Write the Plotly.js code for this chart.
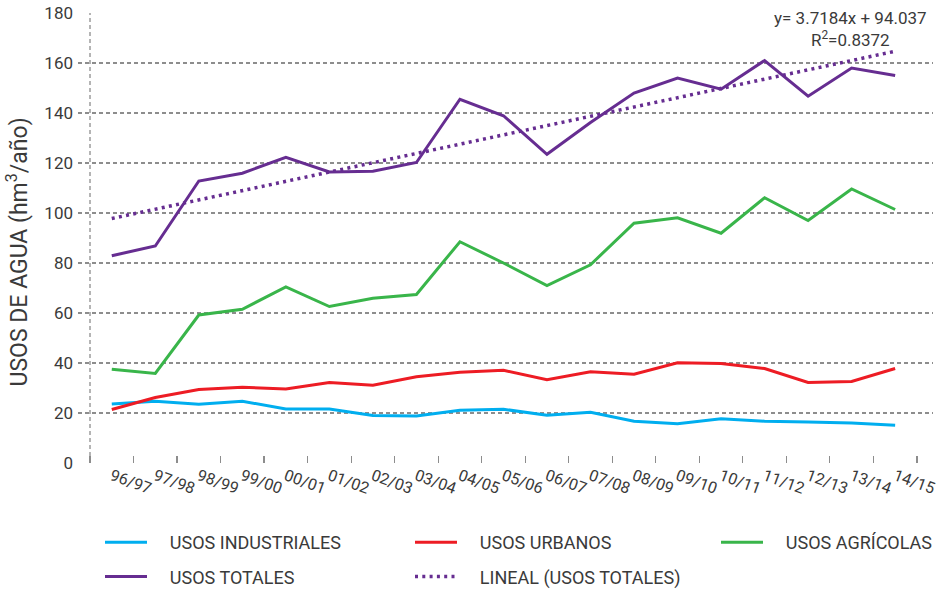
<!DOCTYPE html>
<html>
<head>
<meta charset="utf-8">
<script src="https://cdn.plot.ly/plotly-3.0.1.min.js"></script>
<style>html,body{margin:0;padding:0;background:#fff;}#chart{width:942px;height:590px;}</style>
</head>
<body>
<div id="chart"></div>
<script>
const categories = ["96/97","97/98","98/99","99/00","00/01","01/02","02/03","03/04","04/05","05/06","06/07","07/08","08/09","09/10","10/11","11/12","12/13","13/14","14/15"];
const usosIndustriales = [23.6, 24.7, 23.5, 24.7, 21.6, 21.6, 19.0, 18.8, 21.1, 21.5, 19.1, 20.3, 16.7, 15.7, 17.7, 16.7, 16.4, 16.0, 15.1];
const usosUrbanos = [21.4, 26.2, 29.4, 30.3, 29.6, 32.2, 31.1, 34.5, 36.3, 37.1, 33.3, 36.5, 35.5, 40.1, 39.8, 37.8, 32.2, 32.6, 37.8];
const usosAgricolas = [37.5, 35.8, 59.2, 61.5, 70.4, 62.6, 65.9, 67.4, 88.5, 80.0, 71.0, 79.3, 95.9, 98.1, 91.9, 106.1, 97.0, 109.6, 101.4];
const usosTotales = [82.9, 86.8, 112.8, 115.9, 122.3, 116.4, 116.7, 120.2, 145.5, 138.9, 123.5, 136.2, 148.0, 154.0, 149.5, 161.0, 146.7, 158.0, 155.0];
const tendenciaExtremos = [97.8, 164.7];
const yTicks = [0, 20, 40, 60, 80, 100, 120, 140, 160, 180];
const seriesNames = ["USOS INDUSTRIALES", "USOS URBANOS", "USOS AGRÍCOLAS", "USOS TOTALES", "LINEAL (USOS TOTALES)"];
const yTitle = "USOS DE AGUA (hm<sup>3</sup>/año)";
const equationText = "y= 3.7184x + 94.037<br>R<sup>2</sup>=0.8372";

const FONT = "Roboto, 'Liberation Sans', Arial, sans-serif";
const TXT = "#3a3a3a";
const GRID = "#8d8d8d";
const DASH = "4px,3px";
const PAD = "\u00a0\u00a0\u00a0\u00a0";

function lineTrace(y, name, color, legend, group) {
  return {type: "scatter", mode: "lines", x: categories, y: y, name: PAD + name,
    line: {color: color, width: 3}, legend: legend, legendgroup: group};
}

const traces = [
  lineTrace(usosIndustriales, seriesNames[0], "#00AEEF", "legend", "g1"),
  lineTrace(usosUrbanos, seriesNames[1], "#ED1C24", "legend2", "g2"),
  lineTrace(usosAgricolas, seriesNames[2], "#39B54A", "legend3", "g3"),
  lineTrace(usosTotales, seriesNames[3], "#662D91", "legend", "g4"),
  {type: "scatter", mode: "lines", x: [categories[0], categories[categories.length - 1]], y: tendenciaExtremos,
    name: PAD + seriesNames[4], line: {color: "#662D91", width: 3.5, dash: "3px,4.3px"}, legend: "legend2", legendgroup: "g5"}
];

const legendBase = {orientation: "v", xref: "container", yref: "container", xanchor: "left", yanchor: "top",
  font: {family: FONT, size: 18, color: TXT}, bgcolor: "rgba(0,0,0,0)", borderwidth: 0,
  tracegroupgap: 8, itemwidth: 42, traceorder: "grouped"};

const layout = {
  width: 942, height: 590,
  margin: {l: 78, r: 9, t: 13, b: 127, autoexpand: false},
  paper_bgcolor: "#fff", plot_bgcolor: "#fff",
  font: {family: FONT, color: TXT},
  showlegend: true,
  xaxis: {type: "category", range: [-0.776, 18.87], tickson: "boundaries", ticks: "inside", ticklen: 7,
    tickcolor: GRID, tickwidth: 1.2, showgrid: false, showline: false, zeroline: false,
    tickangle: 20, tickfont: {family: FONT, size: 16, color: TXT}, fixedrange: true},
  yaxis: {range: [0, 180], tickvals: yTicks, showgrid: true, gridcolor: GRID, gridwidth: 1.3, griddash: DASH,
    zeroline: false, showline: false, ticks: "", ticklabelstandoff: 4,
    tickfont: {family: FONT, size: 17, color: TXT}},
  legend: Object.assign({}, legendBase, {x: 100/942, y: 1 - 524/590}),
  legend2: Object.assign({}, legendBase, {x: 410/942, y: 1 - 524/590}),
  legend3: Object.assign({}, legendBase, {x: 716/942, y: 1 - 524/590}),
  shapes: [
    {type: "line", xref: "x", yref: "y", x0: -0.5, x1: -0.5, y0: 0, y1: 180, layer: "below",
      line: {color: GRID, width: 1.3, dash: DASH}},
    {type: "rect", xref: "paper", yref: "paper", x0: 0.8, x1: 1.0, y0: 0.97, y1: 1.02, layer: "between",
      fillcolor: "#fff", line: {width: 0}}
  ],
  annotations: [
    {xref: "paper", yref: "paper", x: 0.904, y: 1.013, xanchor: "center", yanchor: "top",
      text: equationText, showarrow: false, align: "center", borderpad: 0,
      font: {family: FONT, size: 17, color: TXT}},
    {xref: "paper", yref: "paper", x: -0.0702, y: 0.47, xanchor: "center", yanchor: "middle",
      text: yTitle, textangle: -90, showarrow: false, font: {family: FONT, size: 23, color: TXT}}
  ]
};

Plotly.newPlot("chart", traces, layout, {staticPlot: true, displayModeBar: false});
</script>
</body>
</html>
